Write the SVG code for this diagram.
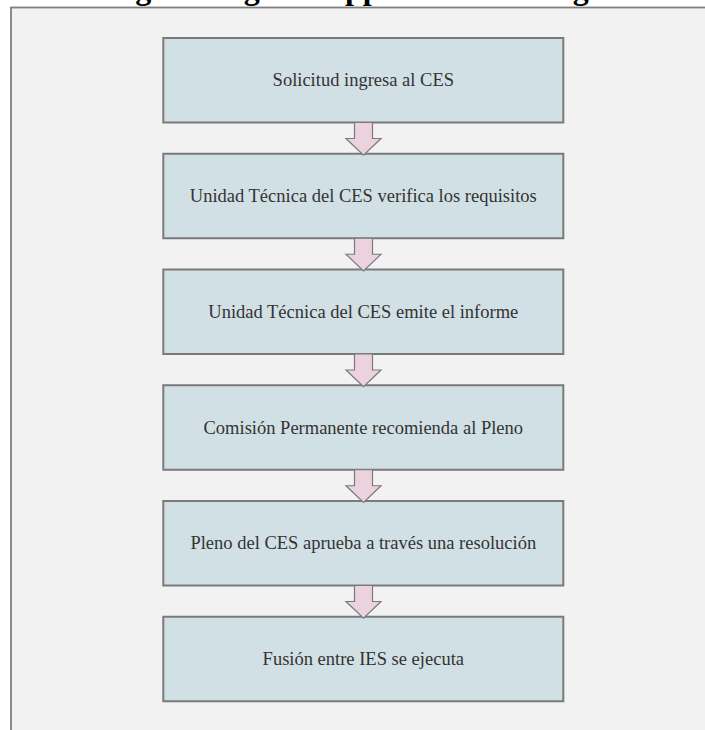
<svg xmlns="http://www.w3.org/2000/svg" width="705" height="730" viewBox="0 0 705 730">
<style>
.title{font-family:"Liberation Serif","Times New Roman",serif;font-weight:bold;font-size:32px;fill:#000;text-anchor:middle}
.box{fill:#d1e0e4;stroke:#7a7a7a;stroke-width:2}
.lbl{font-family:"Liberation Serif","Times New Roman",serif;font-size:18.5px;fill:#333;text-anchor:middle}
.arr{fill:#ecd2de;stroke:#7a7a7a;stroke-width:1.2;stroke-linejoin:miter}
</style>
<rect x="0" y="0" width="705" height="730" fill="#ffffff"/>
<text class="title" x="362" y="-1">Fig. 8. Stages of approval of a merger</text>
<rect x="11" y="7.5" width="710" height="740" fill="#f2f2f2" stroke="#7f7f7f" stroke-width="1.8"/>
<g id="n1"><rect class="box" x="163.3" y="38" width="400" height="84.5"/><text class="lbl" x="363.3" y="86.3">Solicitud ingresa al CES</text></g>
<g id="n2"><rect class="box" x="163.3" y="153.75" width="400" height="84.5"/><text class="lbl" x="363.3" y="202">Unidad Técnica del CES verifica los requisitos</text></g>
<g id="n3"><rect class="box" x="163.3" y="269.5" width="400" height="84.5"/><text class="lbl" x="363.3" y="317.8">Unidad Técnica del CES emite el informe</text></g>
<g id="n4"><rect class="box" x="163.3" y="385.25" width="400" height="84.5"/><text class="lbl" x="363.3" y="433.5">Comisión Permanente recomienda al Pleno</text></g>
<g id="n5"><rect class="box" x="163.3" y="501" width="400" height="84.5"/><text class="lbl" x="363.3" y="549.3">Pleno del CES aprueba a través una resolución</text></g>
<g id="n6"><rect class="box" x="163.3" y="616.75" width="400" height="84.5"/><text class="lbl" x="363.3" y="665">Fusión entre IES se ejecuta</text></g>
<g id="connectors">
<polygon class="arr" points="354.5,122.5 372.5,122.5 372.5,138.5 381,138.5 363.5,155.25 346,138.5 354.5,138.5"/>
<polygon class="arr" points="354.5,238.25 372.5,238.25 372.5,254.25 381,254.25 363.5,271 346,254.25 354.5,254.25"/>
<polygon class="arr" points="354.5,354 372.5,354 372.5,370 381,370 363.5,386.75 346,370 354.5,370"/>
<polygon class="arr" points="354.5,469.75 372.5,469.75 372.5,485.75 381,485.75 363.5,502.5 346,485.75 354.5,485.75"/>
<polygon class="arr" points="354.5,585.5 372.5,585.5 372.5,601.5 381,601.5 363.5,618.25 346,601.5 354.5,601.5"/>
</g>
</svg>
